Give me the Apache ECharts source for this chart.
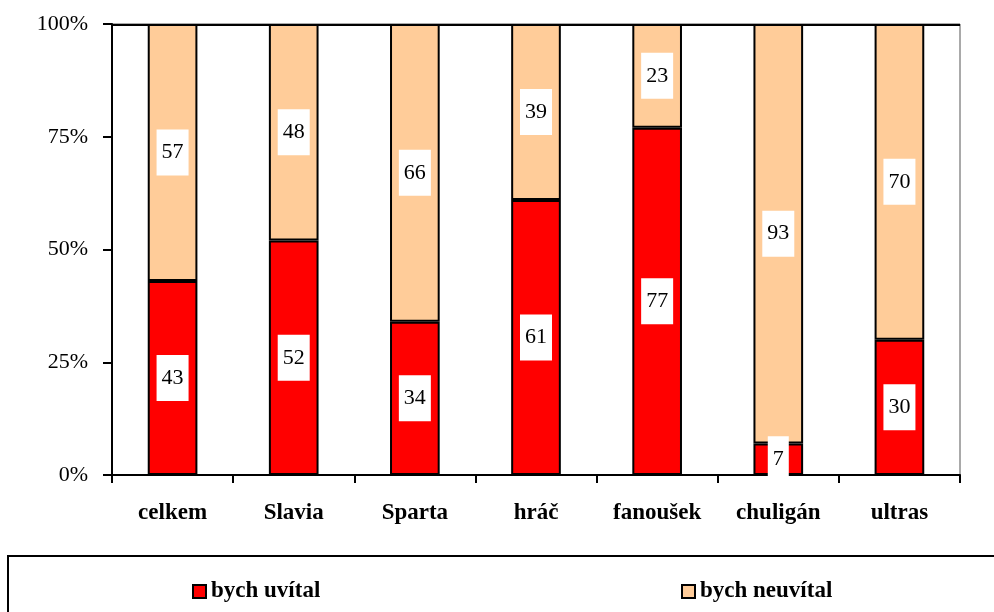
<!DOCTYPE html>
<html>
<head>
<meta charset="utf-8">
<script src="https://cdn.jsdelivr.net/npm/echarts@6/dist/echarts.min.js"></script>
<style>
  html, body { margin: 0; padding: 0; background: #fff; }
  #chart { width: 994px; height: 612px; }
</style>
</head>
<body>
<div id="chart"></div>
<script>
const categories = ['celkem', 'Slavia', 'Sparta', 'hráč', 'fanoušek', 'chuligán', 'ultras']
const uvital = [43, 52, 34, 61, 77, 7, 30]
const neuvital = [57, 48, 66, 39, 23, 93, 70]
const yTicks = [0, 25, 50, 75, 100]

const font = '"Liberation Serif", "DejaVu Serif", serif'

const myChart = echarts.init(document.getElementById('chart'))

const labelStyle = {
  show: true,
  position: 'inside',
  color: '#000',
  fontFamily: font,
  fontSize: 22,
  backgroundColor: '#fff',
  padding: [12, 5, 12, 5]
}

const legendText = { fontFamily: font, fontSize: 23, fontWeight: 'bold', color: '#000' }

myChart.setOption({
  animation: false,
  grid: {
    left: 112,
    right: 34,
    top: 24,
    bottom: 137,
    show: true,
    borderColor: '#555',
    borderWidth: 1
  },
  graphic: [
    {
      type: 'rect',
      shape: { x: 8, y: 556, width: 1000, height: 70 },
      style: { fill: 'none', stroke: '#000', lineWidth: 2 },
      silent: true
    },
    {
      type: 'line',
      shape: { x1: 112, y1: 25, x2: 960, y2: 25 },
      style: { stroke: '#000', lineWidth: 2 },
      silent: true
    }
  ],
  legend: [
    {
      data: ['bych uvítal'],
      left: 187,
      top: 575,
      icon: 'rect',
      itemWidth: 13,
      itemHeight: 13,
      itemGap: 8,
      textStyle: legendText
    },
    {
      data: ['bych neuvítal'],
      left: 676,
      top: 575,
      icon: 'rect',
      itemWidth: 13,
      itemHeight: 13,
      itemGap: 8,
      textStyle: legendText
    }
  ],
  xAxis: {
    type: 'category',
    data: categories,
    axisLine: { lineStyle: { color: '#000', width: 2 } },
    axisTick: { show: true, alignWithLabel: false, length: 8, lineStyle: { color: '#000', width: 2 } },
    axisLabel: {
      color: '#000',
      fontFamily: font,
      fontSize: 23,
      fontWeight: 'bold',
      margin: 27
    }
  },
  yAxis: {
    type: 'value',
    min: 0,
    max: 100,
    interval: 25,
    axisLine: { show: true, lineStyle: { color: '#000', width: 2 } },
    axisTick: { show: true, length: 9, lineStyle: { color: '#000', width: 2 } },
    splitLine: { show: false },
    axisLabel: {
      color: '#000',
      fontFamily: font,
      fontSize: 22,
      margin: 24,
      formatter: v => yTicks.includes(v) ? v + '%' : ''
    }
  },
  series: [
    {
      name: 'bych uvítal',
      type: 'bar',
      stack: 'total',
      barWidth: '41%',
      itemStyle: { color: '#ff0000', borderColor: '#000', borderWidth: 2 },
      label: labelStyle,
      data: uvital
    },
    {
      name: 'bych neuvítal',
      type: 'bar',
      stack: 'total',
      barWidth: '41%',
      itemStyle: { color: '#ffcc99', borderColor: '#000', borderWidth: 2 },
      label: labelStyle,
      data: neuvital
    }
  ]
})
</script>
</body>
</html>
